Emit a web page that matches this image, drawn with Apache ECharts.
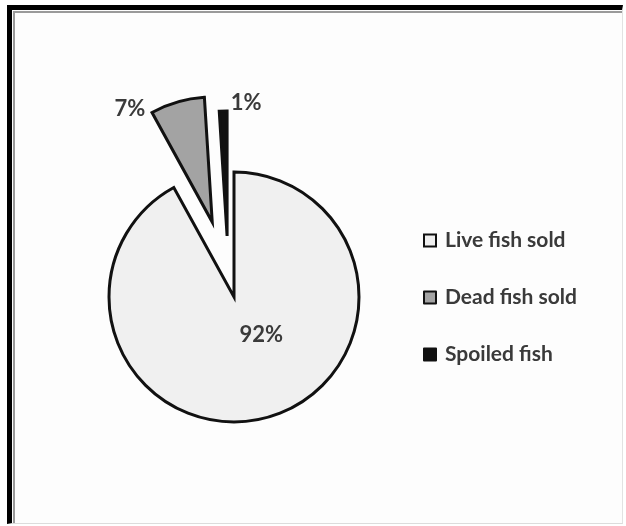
<!DOCTYPE html>
<html>
<head>
<meta charset="utf-8">
<script src="https://cdn.jsdelivr.net/npm/echarts@6/dist/echarts.min.js"></script>
<style>
  html, body { margin: 0; padding: 0; background: #ffffff; }
  #wrap { position: relative; width: 626px; height: 526px; overflow: hidden; }
  #frame { position: absolute; left: 7px; top: 5px; width: 616px; height: 519px; box-sizing: border-box;
           border-left: 5px solid #000; border-top: 5px solid #000; border-right: 1px solid #e2e2e2; border-bottom: 1px solid #dcdcdc; background: #fdfdfd; }
  #inner { position: absolute; left: 1px; top: 1px; right: 0; bottom: 0; border-left: 2px solid #9a9a9a; border-top: 2px solid #9a9a9a; }
  #chart { position: absolute; left: 0; top: 0; width: 626px; height: 526px; }
</style>
</head>
<body>
<div id="wrap">
  <div id="frame"><div id="inner"></div></div>
  <div id="chart"></div>
</div>
<script>
// ---- data ----
const categories = ['Live fish sold', 'Dead fish sold', 'Spoiled fish'];
const values = [92, 7, 1];
const percentLabels = ['92%', '7%', '1%'];

// ---- styles ----
const fills = ['#f0f0f0', '#a3a3a3', '#111111'];
const explode = [0, 78, 61];
const layerCenters = [[234, 297], [234, 297], [229, 297]];
const labelShift = [[11, -26], [-64, -50], [21, -68]];
const textColor = '#3a3a3a';
const font = 'Lato, "Open Sans", "Liberation Sans", sans-serif';

const chart = echarts.init(document.getElementById('chart'), null, { renderer: 'canvas' });

const series = categories.map((_, k) => ({
  type: 'pie',
  name: 'layer' + k,
  center: layerCenters[k],
  radius: 125,
  startAngle: 90,
  clockwise: true,
  silent: true,
  animation: false,
  selectedMode: 'multiple',
  selectedOffset: explode[k],
  emphasis: { disabled: true },
  label: {
    position: 'inside',
    color: textColor,
    fontFamily: font,
    fontWeight: 'bold',
    fontSize: 22,
    formatter: p => percentLabels[p.dataIndex]
  },
  labelLine: { show: false },
  labelLayout: function (params) {
    const s = labelShift[params.dataIndex];
    return { dx: s[0], dy: s[1] };
  },
  data: categories.map((name, i) => ({
    name: name,
    value: values[i],
    selected: i === k && explode[k] > 0,
    itemStyle: i === k
      ? { color: fills[i], borderColor: '#111', borderWidth: 3, borderJoin: 'miter' }
      : { color: 'rgba(0,0,0,0)', borderWidth: 0 },
    label: { show: i === k }
  }))
}));

chart.setOption({
  backgroundColor: 'transparent',
  legend: {
    orient: 'vertical',
    left: 423,
    top: 230,
    itemWidth: 12,
    itemHeight: 12,
    itemGap: 36,
    padding: 0,
    icon: 'rect',
    selectedMode: false,
    textStyle: { color: textColor, fontFamily: font, fontWeight: 'bold', fontSize: 21, padding: [0, 0, 0, 4] },
    data: categories.map((name, i) => ({
      name: name,
      itemStyle: { color: fills[i], borderColor: '#111', borderWidth: 2 }
    }))
  },
  series: series
});
</script>
</body>
</html>
